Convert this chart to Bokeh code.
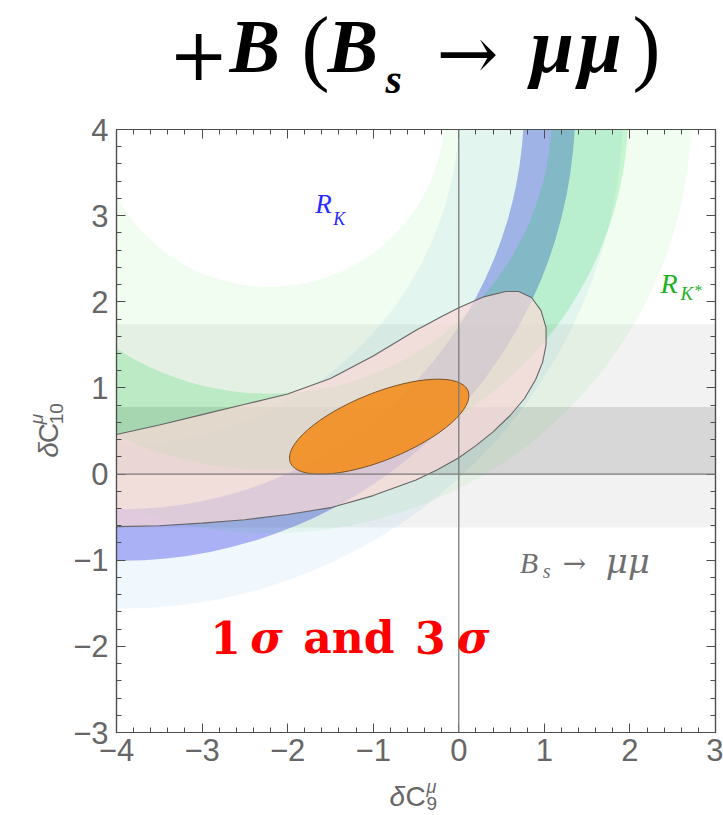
import numpy as np
from bokeh.plotting import figure
from bokeh.layouts import column, row
from bokeh.models import Range1d, FixedTicker, LinearAxis, Span, Label
from bokeh.core.properties import value
from bokeh.embed import file_html
from bokeh.resources import INLINE

# ---- axes ---------------------------------------------------------------
X_RANGE = (-4.0, 3.0)
Y_RANGE = (-3.0, 4.0)
x_major = [-4, -3, -2, -1, 0, 1, 2, 3]
y_major = [-3, -2, -1, 0, 1, 2, 3, 4]
x_tick_labels = ["\u22124", "\u22123", "\u22122", "\u22121", "0", "1", "2", "3"]
y_tick_labels = ["\u22123", "\u22122", "\u22121", "0", "1", "2", "3", "4"]
MINOR_STEP = 0.2

# ---- B_s -> mu mu : allowed dC10 intervals --------------------------------
bsmumu_3sigma = [-0.62, 1.74]
bsmumu_1sigma = [0.00, 0.78]

# ---- R_K and R_K* : circular bands in the (dC9, dC10) plane --------------
rk_centre = [-3.94, 4.26]
rk_3sigma = [3.95, 5.86]      # inner, outer radius
rk_1sigma = [4.70, 5.30]
rks_centre = [-2.21, 4.21]
rks_3sigma = [2.05, 4.93]
rks_1sigma = [3.30, 4.19]

# ---- global fit: 3 sigma contour and 1 sigma ellipse ---------------------
fit3_x = [-4.6, -4.0, -3.5, -3.0, -2.5, -2.0, -1.5, -1.0, -0.5, -0.2, 0.0, 0.3,
          0.55, 0.70, 0.85, 0.96, 1.02, 1.02, 0.98, 0.90, 0.77, 0.60, 0.40,
          0.20, 0.0, -0.25, -0.5, -1.0, -1.5, -2.0, -2.5, -3.0, -3.5, -4.0, -4.6]
fit3_y = [0.33, 0.46, 0.57, 0.69, 0.81, 0.93, 1.11, 1.37, 1.67, 1.83, 1.93, 2.06,
          2.12, 2.12, 2.05, 1.90, 1.70, 1.50, 1.30, 1.10, 0.88, 0.68, 0.49,
          0.33, 0.19, 0.05, -0.07, -0.25, -0.39, -0.47, -0.53, -0.57, -0.60, -0.61, -0.62]
fit1_centre = [-0.93, 0.55]
fit1_axes = [2.24, 0.78]       # full major / minor axis
fit1_angle = 22                # degrees

# ---- page geometry -------------------------------------------------------
W, H = 723, 815
TITLE_H = 110          # strip holding the title
YLAB_W = 70            # strip holding the rotated dC10 title
MAIN_H = 665
XLAB_H = H - TITLE_H - MAIN_H
FRAME_LEFT, FRAME_TOP = 115, 129          # page position of the plot frame
FRAME_W, FRAME_H = 600, 603
FRAME = "#4d4d4d"
TICK_TXT = "#666666"
BASE_SHIFT = 0.37      # glyph drop below the requested baseline, in em


def dx(px):
    """page pixel column -> dC9 value"""
    return X_RANGE[0] + (px - FRAME_LEFT) * (X_RANGE[1] - X_RANGE[0]) / FRAME_W


def dy(py):
    """page pixel row -> dC10 value"""
    return Y_RANGE[1] - (py - FRAME_TOP) * (Y_RANGE[1] - Y_RANGE[0]) / FRAME_H


def strip(w, h):
    """plain drawing area in pixel coordinates (y downwards)"""
    f = figure(width=w, height=h, x_range=Range1d(0, w), y_range=Range1d(h, 0),
               output_backend="svg", toolbar_location=None, title=None,
               x_axis_type=None, y_axis_type=None, min_border=0)
    f.outline_line_color = None
    f.grid.visible = False
    return f


def put(f, x, y, s, size, color, font="Liberation Serif", style="italic", rotated=False):
    if rotated:
        x, angle = x - BASE_SHIFT * size, np.pi / 2
    else:
        y, angle = y - BASE_SHIFT * size, 0.0
    f.text(x=[x], y=[y], text=[s], text_font=value(font),
           text_font_size=value(f"{size}px"), text_font_style=value(style),
           text_color=value(color), text_align=value("left"),
           text_baseline=value("alphabetic"), angle=angle)


# ---- main plot -----------------------------------------------------------
p = figure(width=W - YLAB_W, height=MAIN_H, title=None,
           x_range=Range1d(*X_RANGE), y_range=Range1d(*Y_RANGE),
           output_backend="svg", toolbar_location=None,
           min_border_left=FRAME_LEFT - YLAB_W, min_border_top=FRAME_TOP - TITLE_H,
           min_border_right=W - FRAME_LEFT - FRAME_W,
           min_border_bottom=MAIN_H - (FRAME_TOP - TITLE_H) - FRAME_H)
p.grid.visible = False
p.outline_line_color = FRAME
p.outline_line_width = 1.2

x_minor = [round(v, 2) for v in np.arange(X_RANGE[0], X_RANGE[1] + 1e-9, MINOR_STEP)]
y_minor = [round(v, 2) for v in np.arange(Y_RANGE[0], Y_RANGE[1] + 1e-9, MINOR_STEP)]


def style_axis(ax, major, minor, labels=None, standoff=7):
    ax.ticker = FixedTicker(ticks=major, minor_ticks=minor)
    ax.axis_line_color = FRAME
    ax.axis_line_width = 1.2
    ax.major_tick_line_color = FRAME
    ax.minor_tick_line_color = FRAME
    ax.major_tick_in = 9
    ax.major_tick_out = 0
    ax.minor_tick_in = 5
    ax.minor_tick_out = 0
    if labels is None:
        # frame ticks only, no numbers on the top and right sides
        ax.major_label_overrides = {float(t): "" for t in major}
        ax.major_label_text_font_size = "8px"
        ax.major_label_standoff = 0
    else:
        ax.major_label_overrides = {float(t): s for t, s in zip(major, labels)}
        ax.major_label_text_font = "Liberation Sans"
        ax.major_label_text_font_size = "31px"
        ax.major_label_text_color = TICK_TXT
        ax.major_label_standoff = standoff


style_axis(p.xaxis[0], x_major, x_minor, x_tick_labels, standoff=6)
style_axis(p.yaxis[0], y_major, y_minor, y_tick_labels, standoff=8)
top_axis = LinearAxis()
right_axis = LinearAxis()
style_axis(top_axis, x_major, x_minor)
style_axis(right_axis, y_major, y_minor)
p.add_layout(top_axis, "above")
p.add_layout(right_axis, "right")

# B_s -> mu mu horizontal bands
p.quad(left=[X_RANGE[0] - 1], right=[X_RANGE[1] + 1],
       bottom=[bsmumu_3sigma[0]], top=[bsmumu_3sigma[1]],
       fill_color="black", fill_alpha=0.05, line_color=None)
p.quad(left=[X_RANGE[0] - 1], right=[X_RANGE[1] + 1],
       bottom=[bsmumu_1sigma[0]], top=[bsmumu_1sigma[1]],
       fill_color="black", fill_alpha=0.11, line_color=None)

# R_K bands (blue)
p.annulus(x=[rk_centre[0]], y=[rk_centre[1]],
          inner_radius=rk_3sigma[0], outer_radius=rk_3sigma[1],
          fill_color=(0, 120, 225), fill_alpha=0.06, line_color=None)
p.annulus(x=[rk_centre[0]], y=[rk_centre[1]],
          inner_radius=rk_1sigma[0], outer_radius=rk_1sigma[1],
          fill_color=(0, 8, 225), fill_alpha=0.29, line_color=None)

# R_K* bands (green)
p.annulus(x=[rks_centre[0]], y=[rks_centre[1]],
          inner_radius=rks_3sigma[0], outer_radius=rks_3sigma[1],
          fill_color=(0, 220, 0), fill_alpha=0.055, line_color=None)
p.annulus(x=[rks_centre[0]], y=[rks_centre[1]],
          inner_radius=rks_1sigma[0], outer_radius=rks_1sigma[1],
          fill_color=(0, 210, 53), fill_alpha=0.18, line_color=None)

# global fit
p.patch(fit3_x, fit3_y, fill_color=(252, 216, 216), fill_alpha=0.7,
        line_color="#666666", line_width=1.1)
p.ellipse(x=[fit1_centre[0]], y=[fit1_centre[1]],
          width=fit1_axes[0], height=fit1_axes[1], angle=np.deg2rad(fit1_angle),
          fill_color=(242, 140, 25), fill_alpha=0.88,
          line_color="#7a5228", line_width=1.0)

# dC9 = 0 and dC10 = 0 lines
p.add_layout(Span(location=0, dimension="height", line_color="#7a7a7a", line_width=1.3))
p.add_layout(Span(location=0, dimension="width", line_color="#7a7a7a", line_width=1.3))


def label(px, py, s, size, color, font="Liberation Serif", style="italic"):
    py = py - BASE_SHIFT * size
    p.add_layout(Label(x=dx(px), y=dy(py), text=s, text_font=font,
                       text_font_size=f"{size}px", text_font_style=style,
                       text_color=color, text_align="left",
                       text_baseline="alphabetic"))


BLUE = "#2a2aff"
GREEN = "#1fb01f"
GREY = "#6f6f6f"
RED = "#ff0000"
label(314, 213, "R", 27, BLUE)
label(332, 225, "K", 18, BLUE)
label(660, 293, "R", 28, GREEN)
label(680, 300, "K", 19, GREEN)
label(694, 296, "*", 16, GREEN, style="normal")
label(519, 573, "B", 30, GREY)
label(542, 578, "s", 20, GREY)
label(562, 573, "\u2192", 28, GREY, font="DejaVu Serif", style="normal")
label(605, 573, "\u03bc\u03bc", 34, GREY, font="DejaVu Serif")

label(209, 653, "1", 44, RED, font="DejaVu Serif", style="bold")
label(249, 653, "\u03c3", 44, RED, font="DejaVu Serif", style="bold italic")
label(302, 653, "and", 44, RED, font="DejaVu Serif", style="bold")
label(414, 653, "3", 44, RED, font="DejaVu Serif", style="bold")
label(456, 653, "\u03c3", 44, RED, font="DejaVu Serif", style="bold italic")

# ---- title strip -----------------------------------------------------------
t = strip(W, TITLE_H)
put(t, 168, 80, "+", 72, "black", font="DejaVu Serif", style="normal")
put(t, 229, 74, "B", 76, "black", style="bold italic")
put(t, 301, 77, "(", 84, "black", style="normal")
put(t, 327, 74, "B", 76, "black", style="bold italic")
put(t, 385, 94, "s", 42, "black", style="bold italic")
put(t, 436, 80, "\u2192", 74, "black", font="DejaVu Serif", style="normal")
put(t, 530, 74, "\u03bc", 78, "black", style="bold italic")
put(t, 578, 74, "\u03bc", 78, "black", style="bold italic")
put(t, 632, 77, ")", 84, "black", style="normal")

# ---- dC10 title strip (rotated) --------------------------------------------
yl = strip(YLAB_W, MAIN_H)
oy = TITLE_H
put(yl, 58, 472 - oy, "\u03b4", 28, TICK_TXT, font="Liberation Sans", rotated=True)
put(yl, 58, 456 - oy, "C", 28, TICK_TXT, font="Liberation Sans", style="normal", rotated=True)
put(yl, 63, 435 - oy, "10", 19, TICK_TXT, font="Liberation Sans", style="normal", rotated=True)
put(yl, 43, 435 - oy, "\u03bc", 19, TICK_TXT, font="Liberation Sans", rotated=True)

# ---- dC9 title strip -------------------------------------------------------
xl = strip(W, XLAB_H)
ox = TITLE_H + MAIN_H
put(xl, 389, 806 - ox, "\u03b4", 28, TICK_TXT, font="Liberation Sans")
put(xl, 405, 806 - ox, "C", 28, TICK_TXT, font="Liberation Sans", style="normal")
put(xl, 426, 810 - ox, "9", 19, TICK_TXT, font="Liberation Sans", style="normal")
put(xl, 426, 793 - ox, "\u03bc", 18, TICK_TXT, font="Liberation Sans")

page = column(t, row(yl, p), xl)
open("out.html", "w").write(file_html(page, INLINE))
